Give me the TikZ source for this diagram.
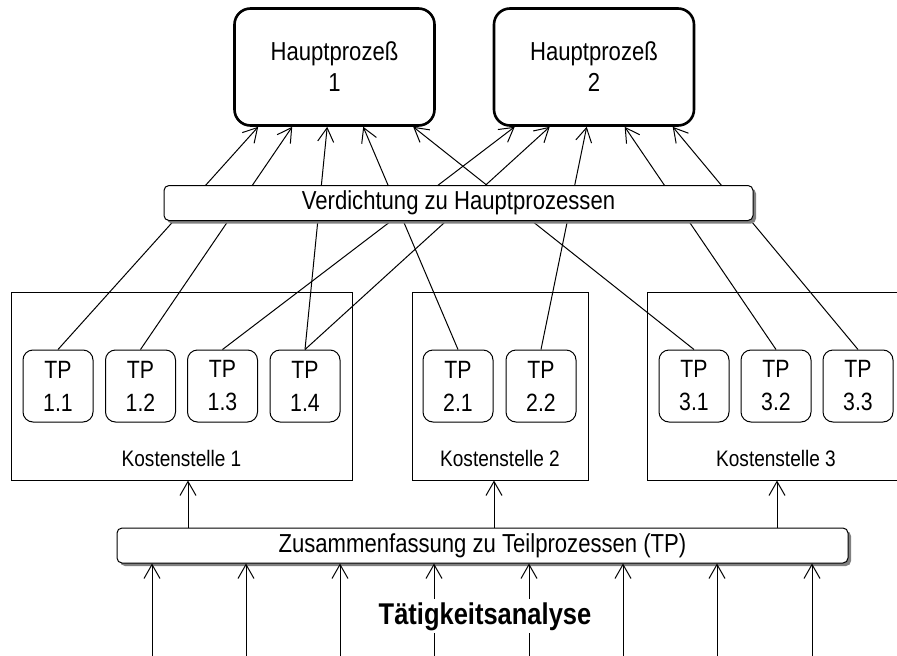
\documentclass[tikz,border=0pt]{standalone}
\usepackage{fontspec}
\setmainfont{Liberation Sans}[FakeStretch=0.85]
\usetikzlibrary{arrows.meta,calc,shadows}

\begin{document}
\begin{tikzpicture}[x=1pt, y=-1pt, line width=1pt,
  arr/.style={-{Straight Barb[length=14pt,width=16pt]}},
  hpbox/.style={draw, line width=2.6pt, rounded corners=16pt, inner sep=0pt, minimum width=200pt, minimum height=117pt, align=center, font=\fontsize{26}{31}\selectfont},
  barbox/.style={draw, fill=white, rounded corners=5pt, inner sep=0pt, minimum height=35pt, font=\fontsize{26}{30}\selectfont, drop shadow={shadow xshift=3pt, shadow yshift=-3pt, fill=black!50, opacity=1}},
  ksbox/.style={draw, inner sep=0pt, minimum height=188pt},
  kslabel/.style={anchor=base, font=\fontsize{22.4}{26}\selectfont},
  tpbox/.style={draw, fill=white, rounded corners=10pt, inner sep=0pt, minimum width=70pt, minimum height=72pt, align=center, font=\fontsize{25}{33}\selectfont}]
  \clip (0,0) rectangle (897,656);
  \useasboundingbox (0,0) rectangle (897,656);

  %--- Kostenstellen ---
  \node[ksbox, minimum width=341pt] (ks1) at (181.5,386) {};
  \node[ksbox, minimum width=176pt] (ks2) at (500,386) {};
  \node[ksbox, minimum width=258pt] (ks3) at (776,386) {};
  \node[kslabel] (ks1lab) at (181.5,466) {Kostenstelle 1};
  \node[kslabel] (ks2lab) at (500,466) {Kostenstelle 2};
  \node[kslabel] (ks3lab) at (776,466) {Kostenstelle 3};

  % Teilprozesse
  \node[tpbox] (tp11) at (58,386) {TP\\1.1};
  \node[tpbox] (tp12) at (140.5,386) {TP\\1.2};
  \node[tpbox] (tp13) at (222.5,386) {TP\\1.3};
  \node[tpbox] (tp14) at (305,386) {TP\\1.4};
  \node[tpbox] (tp21) at (458,386) {TP\\2.1};
  \node[tpbox] (tp22) at (541,386) {TP\\2.2};
  \node[tpbox] (tp31) at (694,386) {TP\\3.1};
  \node[tpbox] (tp32) at (776,386) {TP\\3.2};
  \node[tpbox] (tp33) at (858,386) {TP\\3.3};

  %--- Hauptprozesse ---
  \node[hpbox] (hp1) at (334.5,67) {Hauptprozeß\\1};
  \node[hpbox] (hp2) at (594,67) {Hauptprozeß\\2};

  % TP -> Hauptprozess 1
  \draw[arr] (tp11.north) -- ($(hp1.south west)+(25,0)$);
  \draw[arr] (tp12.north) -- ($(hp1.south west)+(59,0)$);
  \draw[arr] (tp14.north) -- ($(hp1.south west)+(94,0)$);
  \draw[arr] (tp21.north) -- ($(hp1.south west)+(130,0)$);
  \draw[arr] (tp31.north) -- ($(hp1.south west)+(180,0)$);
  % TP -> Hauptprozess 2
  \draw[arr] (tp13.north) -- ($(hp2.south west)+(22,0)$);
  \draw[arr] (tp14.north) -- ($(hp2.south west)+(57,0)$);
  \draw[arr] (tp22.north) -- ($(hp2.south west)+(94,0)$);
  \draw[arr] (tp32.north) -- ($(hp2.south west)+(132,0)$);
  \draw[arr] (tp33.north) -- ($(hp2.south west)+(180,0)$);

  %--- Verdichtung (covers the lines) ---
  \node[barbox, minimum width=589pt] (verd) at (458.5,203) {Verdichtung zu Hauptprozessen};

  %--- Zusammenfassung ---
  \node[barbox, minimum width=731pt] (zus) at (482.5,545.5) {Zusammenfassung zu Teilprozessen (TP)};

  \draw[arr] (188,0 |- zus.north) -- (188,0 |- ks1.south);
  \draw[arr] (494,0 |- zus.north) -- (494,0 |- ks2.south);
  \draw[arr] (777,0 |- zus.north) -- (777,0 |- ks3.south);

  % Taetigkeiten
  \foreach \x in {152,246,340,434,529,623,717,812}
    \draw[arr] (\x,656) -- (\x,656 |- zus.south);
  \node[anchor=base, fill=white, inner sep=3pt, font=\fontsize{30}{34}\selectfont\bfseries] (ta) at (485,624) {Tätigkeitsanalyse};
\end{tikzpicture}
\end{document}
